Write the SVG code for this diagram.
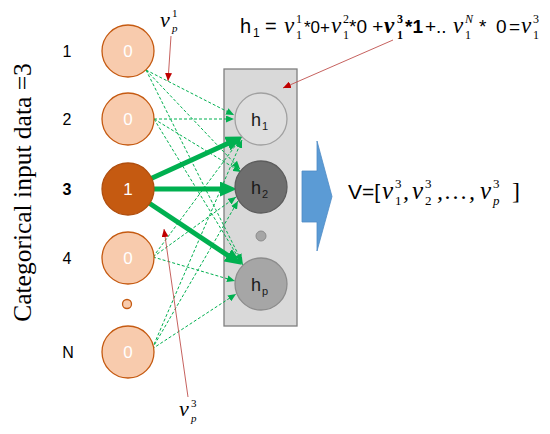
<svg xmlns="http://www.w3.org/2000/svg" width="550" height="434" viewBox="0 0 550 434">
<defs>
<style>
.sans{font-family:"Liberation Sans",Arial,sans-serif;}
.math{font-family:"Liberation Serif","Times New Roman",serif;font-style:italic;}
.up{font-family:"Liberation Serif","Times New Roman",serif;font-style:normal;}
.in{fill:#f8cbad;stroke:#c55a11;stroke-width:1.3;}
.in3{fill:#c55a11;stroke:#b04e0e;stroke-width:1.3;}
.ntxt{fill:#ffffff;font-size:17px;text-anchor:middle;}
.lbl{fill:#000;font-size:16px;text-anchor:middle;}
.htxt{fill:#1a1a1a;font-size:18px;}
.hsub{fill:#1a1a1a;font-size:11px;}
.thick{stroke:#00b050;stroke-width:5;fill:none;marker-end:url(#ahThick);}
.dash{stroke:#00b050;stroke-width:1;stroke-dasharray:3 2;fill:none;marker-end:url(#ahDash);}
.red{stroke:#c0504d;stroke-width:0.9;fill:none;marker-end:url(#ahRed);}
</style>
<marker id="ahThick" markerUnits="userSpaceOnUse" markerWidth="17" markerHeight="15" refX="4" refY="7.5" orient="auto">
<path d="M0,0 L17,7.5 L0,15 z" fill="#00b050"/>
</marker>
<marker id="ahDash" markerUnits="userSpaceOnUse" markerWidth="8" markerHeight="7" refX="8" refY="3.5" orient="auto">
<path d="M0,0 L8,3.5 L0,7 z" fill="#00b050"/>
</marker>
<marker id="ahRed" markerUnits="userSpaceOnUse" markerWidth="8" markerHeight="7" refX="8" refY="3.5" orient="auto">
<path d="M0,0 L8,3.5 L0,7 z" fill="#c00000"/>
</marker>
</defs>
<rect width="550" height="434" fill="#ffffff"/>

<!-- vertical caption -->
<text class="up" transform="translate(31,192.5) rotate(-90)" font-size="25.5" text-anchor="middle" fill="#000">Categorical input data =3</text>

<!-- row labels -->
<g id="labels" class="sans">
<text class="lbl" x="67" y="57">1</text>
<text class="lbl" x="67" y="125">2</text>
<text class="lbl" x="67" y="195" font-weight="bold">3</text>
<text class="lbl" x="67" y="264">4</text>
<text class="lbl" x="68" y="358">N</text>
</g>

<!-- hidden layer box -->
<g id="hidden-layer">
<rect x="224" y="69" width="73" height="257" fill="#d9d9d9" stroke="#7f7f7f" stroke-width="1.3"/>
</g>

<!-- connectors -->
<g id="connectors">
<line class="dash" x1="146" y1="70" x2="234" y2="115"/>
<line class="dash" x1="146" y1="70" x2="240" y2="169"/>
<line class="dash" x1="146" y1="70" x2="242" y2="262"/>
<line class="dash" x1="154" y1="119" x2="234" y2="119"/>
<line class="dash" x1="154" y1="119" x2="241" y2="172"/>
<line class="dash" x1="154" y1="119" x2="243" y2="265"/>
<line class="dash" x1="153" y1="257" x2="241" y2="138"/>
<line class="dash" x1="153" y1="257" x2="236" y2="197"/>
<line class="dash" x1="153" y1="257" x2="235" y2="281"/>
<line class="dash" x1="152" y1="349" x2="242" y2="140"/>
<line class="dash" x1="152" y1="349" x2="238" y2="201"/>
<line class="dash" x1="152" y1="349" x2="236" y2="294"/>
<line class="thick" x1="150" y1="179" x2="231" y2="142"/>
<line class="thick" x1="154" y1="189" x2="224" y2="189"/>
<line class="thick" x1="149" y1="203" x2="231" y2="257.5"/>
<line class="red" x1="171" y1="36" x2="168" y2="81"/>
<line class="red" x1="393" y1="40" x2="283" y2="88"/>
<line class="red" x1="188" y1="397" x2="164" y2="229"/>
</g>

<!-- input nodes -->
<g id="in1" class="sans"><circle class="in" cx="128" cy="51" r="26"/><text class="ntxt" x="128" y="57">0</text></g>
<g id="in2" class="sans"><circle class="in" cx="128" cy="119" r="26"/><text class="ntxt" x="128" y="125">0</text></g>
<g id="in3" class="sans"><circle class="in3" cx="128" cy="189" r="26"/><text class="ntxt" x="128" y="195">1</text></g>
<g id="in4" class="sans"><circle class="in" cx="128" cy="258" r="26"/><text class="ntxt" x="128" y="264">0</text></g>
<g id="in-dot"><circle class="in" cx="127" cy="304" r="4.5"/></g>
<g id="inN" class="sans"><circle class="in" cx="128" cy="352" r="26"/><text class="ntxt" x="128" y="358">0</text></g>

<!-- hidden nodes -->
<g id="h1" class="sans"><circle cx="261" cy="119" r="26" fill="#dedede" stroke="#a0a0a0" stroke-width="1.3"/><text class="htxt" x="251" y="126">h</text><text class="hsub" x="262" y="130">1</text></g>
<g id="h2" class="sans"><circle cx="261" cy="187" r="26" fill="#6e6e6e" stroke="#5c5c5c" stroke-width="1.3"/><text class="htxt" x="251" y="194">h</text><text class="hsub" x="262" y="198">2</text></g>
<g id="h-dot"><circle cx="261" cy="236" r="5" fill="#a6a6a6" stroke="#8c8c8c" stroke-width="1"/></g>
<g id="hp" class="sans"><circle cx="261" cy="284" r="26" fill="#a6a6a6" stroke="#8c8c8c" stroke-width="1.3"/><text class="htxt" x="251" y="291">h</text><text class="hsub" x="262" y="295">p</text></g>

<!-- block arrow -->
<g id="block-arrow">
<polygon points="302,171 317,171 317,141 332,196.5 317,251 317,222 302,222" fill="#5b9bd5" stroke="#4f8cc5" stroke-width="0.8"/>
</g>

<!-- output vector text -->
<g id="vector" fill="#000">
<text class="sans" x="348" y="199" font-size="21">V=[</text>
<text class="math" x="382" y="199" font-size="25">v</text>
<text class="up" x="395" y="188" font-size="13">3</text>
<text class="up" x="395" y="205" font-size="13">1</text>
<text class="math" x="403" y="199" font-size="24">,</text>
<text class="math" x="412" y="199" font-size="25">v</text>
<text class="up" x="425" y="188" font-size="13">3</text>
<text class="up" x="425" y="205" font-size="13">2</text>
<text class="math" x="437" y="199" font-size="24" textLength="38" lengthAdjust="spacing">,…,</text>
<text class="math" x="480" y="199" font-size="25">v</text>
<text class="up" x="493" y="188" font-size="13">3</text>
<text class="math" x="493" y="205" font-size="13">p</text>
<text class="up" x="512" y="199" font-size="24">]</text>
</g>

<!-- top formula -->
<g id="formula" fill="#000">
<text class="sans" x="240" y="33" font-size="20">h</text>
<text class="sans" x="253" y="37" font-size="12">1</text>
<text class="sans" x="265" y="33" font-size="20">=</text>
<text class="math" x="284" y="33" font-size="23">v</text>
<text class="up" x="296" y="23" font-size="12">1</text>
<text class="up" x="296" y="39" font-size="12">1</text>
<text class="sans" x="304" y="33" font-size="17">*0+</text>
<text class="math" x="331" y="33" font-size="23">v</text>
<text class="up" x="343" y="23" font-size="12">2</text>
<text class="up" x="343" y="39" font-size="12">1</text>
<text class="sans" x="349" y="33" font-size="19">*0 +</text>
<text class="math" x="384" y="33" font-size="23" font-weight="bold">v</text>
<text class="up" x="397" y="23" font-size="12" font-weight="bold">3</text>
<text class="up" x="397" y="39" font-size="12" font-weight="bold">1</text>
<text class="sans" x="405" y="33" font-size="19" font-weight="bold">*1</text>
<text class="sans" x="425" y="33" font-size="19">+..</text>
<text class="math" x="453" y="33" font-size="23">v</text>
<text class="math" x="465" y="23" font-size="12">N</text>
<text class="up" x="465" y="39" font-size="12">1</text>
<text class="sans" x="479" y="33" font-size="19" textLength="41" lengthAdjust="spacing">* 0=</text>
<text class="math" x="521" y="33" font-size="23">v</text>
<text class="up" x="533" y="23" font-size="12">3</text>
<text class="up" x="533" y="39" font-size="12">1</text>
</g>

<!-- red labels -->
<g id="vp1" fill="#000">
<text class="math" x="160" y="27" font-size="22">v</text>
<text class="up" x="172" y="17" font-size="11">1</text>
<text class="math" x="172" y="32" font-size="11">p</text>
</g>
<g id="vp3" fill="#000">
<text class="math" x="179" y="416" font-size="22">v</text>
<text class="up" x="191" y="407" font-size="11">3</text>
<text class="math" x="191" y="422" font-size="11">p</text>
</g>
</svg>
